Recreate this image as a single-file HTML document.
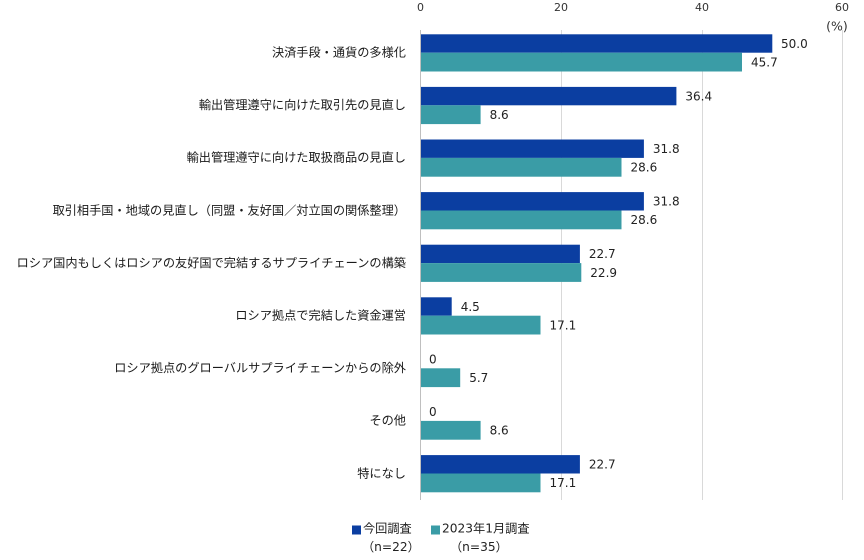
<!DOCTYPE html>
<html><head><meta charset="utf-8"><style>
html,body{margin:0;padding:0;background:#fff;}
svg{display:block;}
.cat{font-family:"Liberation Sans","Noto Sans CJK JP",sans-serif;font-size:12.2px;fill:#1a1a1a;}
.val{font-family:"DejaVu Sans",sans-serif;font-size:12px;fill:#222;}
.tick{font-family:"DejaVu Sans",sans-serif;font-size:11px;fill:#333;}
.leg{font-family:"DejaVu Sans","Noto Sans CJK JP",sans-serif;font-size:12.2px;fill:#222;}
</style></head><body>
<svg width="864" height="560" viewBox="0 0 864 560" xmlns="http://www.w3.org/2000/svg">
<rect width="864" height="560" fill="#fff"/>
<g stroke="#d9d9d9" stroke-width="1">
<line x1="561.5" y1="30" x2="561.5" y2="500"/>
<line x1="702.5" y1="30" x2="702.5" y2="500"/>
<line x1="842.5" y1="30" x2="842.5" y2="500"/>
</g>
<line x1="420.5" y1="30" x2="420.5" y2="500" stroke="#bfbfbf" stroke-width="1"/>
<g class="tick" text-anchor="middle">
<text x="420.5" y="11">0</text>
<text x="561" y="11">20</text>
<text x="702" y="11">40</text>
<text x="842" y="11">60</text>
<text x="837" y="30.5" style="font-size:12.5px">(%)</text>
</g>
<g class="cat" text-anchor="end">
<text x="406" y="56.5">決済手段・通貨の多様化</text>
<text x="406" y="109.1">輸出管理遵守に向けた取引先の見直し</text>
<text x="406" y="161.7">輸出管理遵守に向けた取扱商品の見直し</text>
<text x="406" y="214.3">取引相手国・地域の見直し（同盟・友好国／対立国の関係整理）</text>
<text x="406" y="266.9">ロシア国内もしくはロシアの友好国で完結するサプライチェーンの構築</text>
<text x="406" y="319.5">ロシア拠点で完結した資金運営</text>
<text x="406" y="372.1">ロシア拠点のグローバルサプライチェーンからの除外</text>
<text x="406" y="424.7">その他</text>
<text x="406" y="477.3">特になし</text>
</g>
<g>
<rect x="421" y="34.3" width="351.3" height="18.4" fill="#0b3ea1"/>
<rect x="421" y="52.7" width="321" height="18.8" fill="#3a9ca6"/>
<rect x="421" y="86.9" width="255.4" height="18.4" fill="#0b3ea1"/>
<rect x="421" y="105.3" width="59.6" height="18.8" fill="#3a9ca6"/>
<rect x="421" y="139.5" width="222.9" height="18.4" fill="#0b3ea1"/>
<rect x="421" y="157.9" width="200.5" height="18.8" fill="#3a9ca6"/>
<rect x="421" y="192.1" width="222.9" height="18.4" fill="#0b3ea1"/>
<rect x="421" y="210.5" width="200.5" height="18.8" fill="#3a9ca6"/>
<rect x="421" y="244.7" width="158.9" height="18.4" fill="#0b3ea1"/>
<rect x="421" y="263.1" width="160.3" height="18.8" fill="#3a9ca6"/>
<rect x="421" y="297.3" width="30.7" height="18.4" fill="#0b3ea1"/>
<rect x="421" y="315.7" width="119.5" height="18.8" fill="#3a9ca6"/>
<rect x="421" y="368.3" width="39.2" height="18.8" fill="#3a9ca6"/>
<rect x="421" y="420.9" width="59.6" height="18.8" fill="#3a9ca6"/>
<rect x="421" y="455.1" width="158.9" height="18.4" fill="#0b3ea1"/>
<rect x="421" y="473.5" width="119.5" height="18.8" fill="#3a9ca6"/>
</g>
<g class="val">
<text x="781" y="47.8">50.0</text>
<text x="751" y="66.4">45.7</text>
<text x="685.4" y="100.4">36.4</text>
<text x="489.6" y="119">8.6</text>
<text x="652.9" y="153">31.8</text>
<text x="630.5" y="171.6">28.6</text>
<text x="652.9" y="205.6">31.8</text>
<text x="630.5" y="224.2">28.6</text>
<text x="588.9" y="258.2">22.7</text>
<text x="590.3" y="276.8">22.9</text>
<text x="460.7" y="310.8">4.5</text>
<text x="549.5" y="329.4">17.1</text>
<text x="429" y="363.4">0</text>
<text x="469.2" y="382">5.7</text>
<text x="429" y="416">0</text>
<text x="489.6" y="434.6">8.6</text>
<text x="588.9" y="468.6">22.7</text>
<text x="549.5" y="487.2">17.1</text>
</g>
<rect x="352" y="525.5" width="9" height="9" fill="#0b3ea1"/>
<text class="leg" x="363" y="532.5">今回調査</text>
<rect x="431" y="525.5" width="9" height="9" fill="#3a9ca6"/>
<text class="leg" x="442" y="532.5">2023年1月調査</text>
<text class="leg" x="362" y="551">（n=22）</text>
<text class="leg" x="450" y="551">（n=35）</text>
</svg>
</body></html>
